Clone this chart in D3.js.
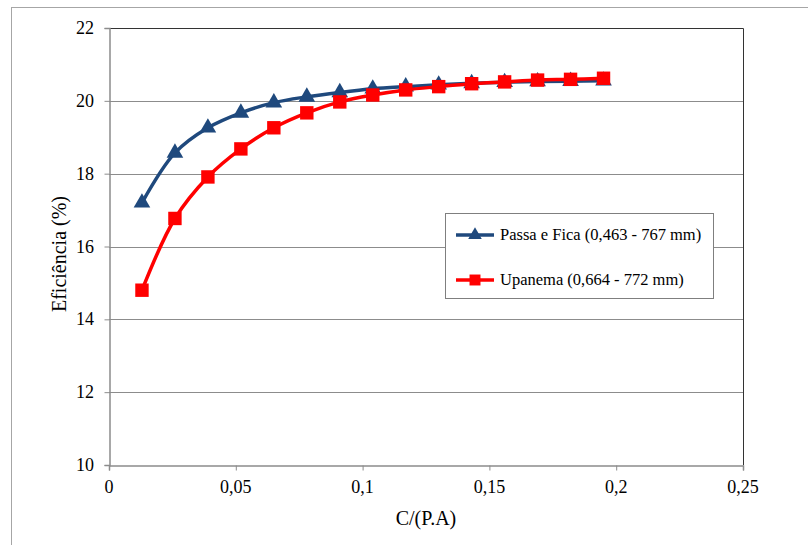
<!DOCTYPE html>
<html>
<head>
<meta charset="utf-8">
<script src="https://cdn.jsdelivr.net/npm/d3@7"></script>
<style>
  body { margin: 0; background: #fff; }
  svg { display: block; }
  svg text { font-family: "Liberation Serif", "Times New Roman", serif; }
</style>
</head>
<body>
<svg width="808" height="545"></svg>
<script>
var xValues = [0.013, 0.026, 0.039, 0.052, 0.065, 0.078, 0.091, 0.104, 0.117, 0.130, 0.143, 0.156, 0.169, 0.182, 0.195];
var passaEFica = [17.2, 18.57, 19.26, 19.67, 19.95, 20.11, 20.23, 20.33, 20.39, 20.44, 20.48, 20.51, 20.53, 20.54, 20.55];
var upanema = [14.8, 16.77, 17.91, 18.68, 19.26, 19.67, 19.97, 20.16, 20.3, 20.39, 20.47, 20.52, 20.57, 20.59, 20.62];
var seriesNames = ["Passa e Fica (0,463 - 767 mm)", "Upanema (0,664 - 772 mm)"];
var xTicks = [0, 0.05, 0.1, 0.15, 0.2, 0.25];
var yTicks = [10, 12, 14, 16, 18, 20, 22];

var svg = d3.select("svg");
var plotLeft = 109, plotRight = 743, plotTop = 28, plotBottom = 465;

var x = d3.scaleLinear().domain([0, 0.25]).range([plotLeft, plotRight]);
var y = d3.scaleLinear().domain([10, 22]).range([plotBottom, plotTop]);

// outer chart frame
svg.append("rect")
  .attr("x", 11.5).attr("y", 7.5).attr("width", 820).attr("height", 560)
  .attr("fill", "none").attr("stroke", "#a6a6a6");

// gridlines
svg.append("g").selectAll("line")
  .data(yTicks.slice(1, -1))
  .enter().append("line")
    .attr("x1", plotLeft).attr("x2", plotRight)
    .attr("y1", function(d) {return Math.round(y(d)) + 0.5;})
    .attr("y2", function(d) {return Math.round(y(d)) + 0.5;})
    .attr("stroke", "#8c8c8c");

// plot border top/right
svg.append("path")
  .attr("d", "M" + plotLeft + "," + (plotTop + 0.5) + "H" + (plotRight + 0.5) + "V" + plotBottom)
  .attr("fill", "none").attr("stroke", "#333");

var fmt = function(d) {return String(d).replace(".", ",");};

function styleAxis(g) {
  g.select(".domain").attr("stroke", "#8c8c8c").attr("stroke-width", 1.5);
  g.selectAll(".tick line").attr("stroke", "#8c8c8c");
}

svg.append("g")
  .attr("transform", "translate(0," + (plotBottom + 0.5) + ")")
  .call(d3.axisBottom(x).tickValues(xTicks).tickFormat("").tickSizeOuter(0).tickSize(5))
  .call(styleAxis);
svg.append("g")
  .attr("transform", "translate(" + (plotLeft + 0.5) + ",0)")
  .call(d3.axisLeft(y).tickValues(yTicks).tickFormat("").tickSizeOuter(0).tickSize(5))
  .call(styleAxis);

// tick labels
svg.append("g").selectAll("text")
  .data(xTicks)
  .enter().append("text")
    .attr("x", function(d) {return x(d);})
    .attr("y", 493)
    .attr("text-anchor", "middle")
    .style("font-size", "18px")
    .text(fmt);
svg.append("g").selectAll("text")
  .data(yTicks)
  .enter().append("text")
    .attr("x", 94)
    .attr("y", function(d) {return y(d) + 6;})
    .attr("text-anchor", "end")
    .style("font-size", "18px")
    .text(function(d) {return d;});

svg.append("text")
  .attr("x", 426).attr("y", 525)
  .attr("text-anchor", "middle").style("font-size", "20px")
  .text("C/(P.A)");
svg.append("text")
  .attr("transform", "translate(66,254) rotate(-90)")
  .attr("text-anchor", "middle").style("font-size", "20px")
  .text("Eficiência (%)");

var line = d3.line()
  .x(function(d) {return x(d[0]);})
  .y(function(d) {return y(d[1]);})
  .curve(d3.curveCatmullRom.alpha(0.5));

var series = [
  {name: seriesNames[0], values: passaEFica, color: "#1f497d", symbol: d3.symbolTriangle},
  {name: seriesNames[1], values: upanema, color: "#ff0000", symbol: d3.symbolSquare}
];

series.forEach(function(s) {
  var pts = xValues.map(function(v, i) {return [v, s.values[i]];});
  svg.append("path")
    .datum(pts)
    .attr("d", line)
    .attr("fill", "none")
    .attr("stroke", s.color)
    .attr("stroke-width", 3.5);
  svg.append("g").selectAll("path")
    .data(pts)
    .enter().append("path")
      .attr("transform", function(d) {return "translate(" + x(d[0]) + "," + y(d[1]) + ")";})
      .attr("d", d3.symbol().type(s.symbol).size(s.symbol === d3.symbolSquare ? 180 : 120))
      .attr("fill", s.color);
});

// legend
var legend = svg.append("g");
legend.append("rect")
  .attr("x", 445.5).attr("y", 213.5).attr("width", 268).attr("height", 85)
  .attr("fill", "#fff").attr("stroke", "#7f7f7f");
var rows = legend.selectAll("g.row")
  .data(series)
  .enter().append("g")
    .attr("class", "row")
    .attr("transform", function(d, i) {return "translate(0," + (235 + i * 45) + ")";});
rows.append("line")
  .attr("x1", 456).attr("x2", 494)
  .attr("stroke", function(d) {return d.color;})
  .attr("stroke-width", 3.5);
rows.append("path")
  .attr("transform", "translate(475,0)")
  .attr("d", function(d) {return d3.symbol().type(d.symbol).size(d.symbol === d3.symbolSquare ? 120 : 80)();})
  .attr("fill", function(d) {return d.color;});
rows.append("text")
  .attr("x", 500).attr("y", 5)
  .style("font-size", "16.5px")
  .text(function(d) {return d.name;});
</script>
</body>
</html>
